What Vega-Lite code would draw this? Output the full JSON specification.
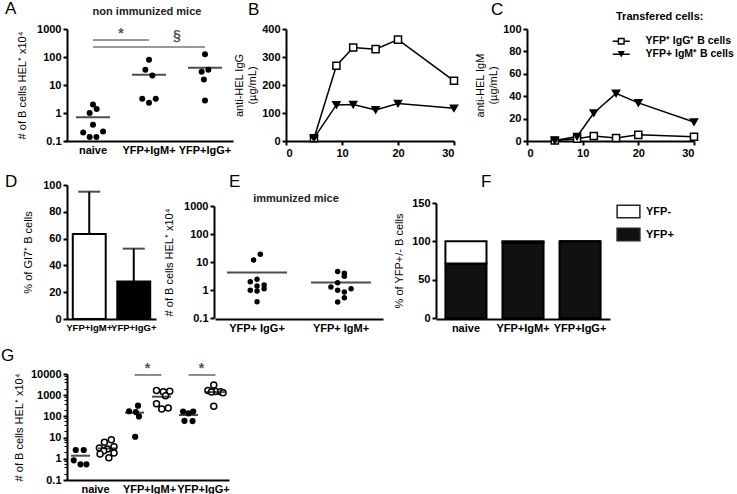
{
  "$schema": "https://vega.github.io/schema/vega-lite/v6.json",
  "padding": {"left": 1, "top": 0, "right": 0, "bottom": 0},
  "background": "white",
  "config": {
    "view": {"stroke": null},
    "font": "Liberation Sans",
    "axis": {"grid": false, "labelOverlap": false, "tickCount": 20, "domainColor": "black", "domainWidth": 2, "tickColor": "black", "tickWidth": 2, "tickSize": 4, "labelFont": "Liberation Sans", "labelFontSize": 11, "labelFontWeight": "bold", "labelColor": "black", "titleFont": "Liberation Sans", "titleFontSize": 11, "titleFontWeight": "normal", "titleColor": "black", "labelPadding": 2, "titlePadding": 6},
    "title": {"font": "Liberation Sans", "fontSize": 17, "fontWeight": "normal", "color": "black", "anchor": "start", "frame": "group"},
    "legend": {"labelFont": "Liberation Sans", "titleFont": "Liberation Sans", "labelColor": "black", "titleColor": "black"},
    "text": {"font": "Liberation Sans"}
  },
  "datasets": {
    "a_pts": [
      {"grp": "naive", "val": 2.0, "jitter": 0},
      {"grp": "naive", "val": 1.38, "jitter": 0.13},
      {"grp": "naive", "val": 1.0, "jitter": -0.12},
      {"grp": "naive", "val": 0.38, "jitter": 0},
      {"grp": "naive", "val": 0.22, "jitter": 0.36},
      {"grp": "naive", "val": 0.2, "jitter": -0.35},
      {"grp": "naive", "val": 0.14, "jitter": -0.12},
      {"grp": "naive", "val": 0.14, "jitter": 0.12},
      {"grp": "YFP+IgM+", "val": 79, "jitter": 0},
      {"grp": "YFP+IgM+", "val": 35, "jitter": -0.13},
      {"grp": "YFP+IgM+", "val": 22, "jitter": 0.12},
      {"grp": "YFP+IgM+", "val": 3.2, "jitter": -0.24},
      {"grp": "YFP+IgM+", "val": 3.2, "jitter": 0.24},
      {"grp": "YFP+IgM+", "val": 2.3, "jitter": 0},
      {"grp": "YFP+IgG+", "val": 125, "jitter": 0},
      {"grp": "YFP+IgG+", "val": 35, "jitter": 0.12},
      {"grp": "YFP+IgG+", "val": 30, "jitter": -0.12},
      {"grp": "YFP+IgG+", "val": 15.7, "jitter": -0.04},
      {"grp": "YFP+IgG+", "val": 2.8, "jitter": 0}
    ],
    "a_mean": [
      {"grp": "naive", "val": 0.7},
      {"grp": "YFP+IgM+", "val": 23},
      {"grp": "YFP+IgG+", "val": 41}
    ],
    "a_sig": [
      {"from": "naive", "to": "YFP+IgM+", "val": 405, "at": "naive", "lab": 660, "sym": "*"},
      {"from": "naive", "to": "YFP+IgG+", "val": 228, "at": "YFP+IgM+", "lab": 540, "sym": "§"}
    ],
    "bdata": [
      {"series": "YFP⁺ IgG⁺ B cells", "day": 5, "val": 10},
      {"series": "YFP⁺ IgG⁺ B cells", "day": 9, "val": 269},
      {"series": "YFP⁺ IgG⁺ B cells", "day": 12, "val": 334},
      {"series": "YFP⁺ IgG⁺ B cells", "day": 16, "val": 328},
      {"series": "YFP⁺ IgG⁺ B cells", "day": 20, "val": 362},
      {"series": "YFP⁺ IgG⁺ B cells", "day": 30, "val": 215},
      {"series": "YFP+ IgM⁺ B cells", "day": 5, "val": 10},
      {"series": "YFP+ IgM⁺ B cells", "day": 9, "val": 129},
      {"series": "YFP+ IgM⁺ B cells", "day": 12, "val": 130},
      {"series": "YFP+ IgM⁺ B cells", "day": 16, "val": 111},
      {"series": "YFP+ IgM⁺ B cells", "day": 20, "val": 134},
      {"series": "YFP+ IgM⁺ B cells", "day": 30, "val": 117}
    ],
    "cdata": [
      {"series": "YFP⁺ IgG⁺ B cells", "day": 5, "val": 0.5},
      {"series": "YFP⁺ IgG⁺ B cells", "day": 9, "val": 2},
      {"series": "YFP⁺ IgG⁺ B cells", "day": 12, "val": 4.5},
      {"series": "YFP⁺ IgG⁺ B cells", "day": 16, "val": 2.7},
      {"series": "YFP⁺ IgG⁺ B cells", "day": 20, "val": 5.5},
      {"series": "YFP⁺ IgG⁺ B cells", "day": 30, "val": 3.8},
      {"series": "YFP+ IgM⁺ B cells", "day": 5, "val": 0.5},
      {"series": "YFP+ IgM⁺ B cells", "day": 9, "val": 4},
      {"series": "YFP+ IgM⁺ B cells", "day": 12, "val": 25},
      {"series": "YFP+ IgM⁺ B cells", "day": 16, "val": 42.5},
      {"series": "YFP+ IgM⁺ B cells", "day": 20, "val": 34},
      {"series": "YFP+ IgM⁺ B cells", "day": 30, "val": 17}
    ],
    "ddata": [
      {"grp": "YFP+IgM+", "val": 63.5, "upper": 95},
      {"grp": "YFP+IgG+", "val": 28, "upper": 52.5}
    ],
    "e_pts": [
      {"grp": "YFP+ IgG+", "val": 18.8, "jitter": 0.08},
      {"grp": "YFP+ IgG+", "val": 11.8, "jitter": -0.08},
      {"grp": "YFP+ IgG+", "val": 2.4, "jitter": 0},
      {"grp": "YFP+ IgG+", "val": 1.98, "jitter": -0.16},
      {"grp": "YFP+ IgG+", "val": 1.5, "jitter": 0.17},
      {"grp": "YFP+ IgG+", "val": 1.39, "jitter": 0},
      {"grp": "YFP+ IgG+", "val": 1.11, "jitter": 0.17},
      {"grp": "YFP+ IgG+", "val": 0.98, "jitter": -0.16},
      {"grp": "YFP+ IgG+", "val": 0.92, "jitter": 0},
      {"grp": "YFP+ IgG+", "val": 0.38, "jitter": 0},
      {"grp": "YFP+ IgM+", "val": 4.6, "jitter": -0.08},
      {"grp": "YFP+ IgM+", "val": 4.0, "jitter": 0.08},
      {"grp": "YFP+ IgM+", "val": 3.1, "jitter": 0.08},
      {"grp": "YFP+ IgM+", "val": 1.83, "jitter": -0.08},
      {"grp": "YFP+ IgM+", "val": 1.28, "jitter": -0.24},
      {"grp": "YFP+ IgM+", "val": 1.11, "jitter": 0.24},
      {"grp": "YFP+ IgM+", "val": 0.98, "jitter": -0.08},
      {"grp": "YFP+ IgM+", "val": 0.85, "jitter": 0.08},
      {"grp": "YFP+ IgM+", "val": 0.53, "jitter": 0.08},
      {"grp": "YFP+ IgM+", "val": 0.37, "jitter": -0.08}
    ],
    "e_mean": [
      {"grp": "YFP+ IgG+", "val": 4.2},
      {"grp": "YFP+ IgM+", "val": 1.85}
    ],
    "fdata": [
      {"grp": "naive", "cell": "YFP+", "pct": 71},
      {"grp": "naive", "cell": "YFP-", "pct": 29},
      {"grp": "YFP+IgM+", "cell": "YFP+", "pct": 98.5},
      {"grp": "YFP+IgM+", "cell": "YFP-", "pct": 1.5},
      {"grp": "YFP+IgG+", "cell": "YFP+", "pct": 100},
      {"grp": "YFP+IgG+", "cell": "YFP-", "pct": 0}
    ],
    "g_pts": [
      {"cond": "naive|filled", "type": "filled", "val": 2.6, "jitter": -0.35},
      {"cond": "naive|filled", "type": "filled", "val": 2.6, "jitter": 0.24},
      {"cond": "naive|filled", "type": "filled", "val": 0.85, "jitter": -0.5},
      {"cond": "naive|filled", "type": "filled", "val": 0.55, "jitter": 0},
      {"cond": "naive|filled", "type": "filled", "val": 0.55, "jitter": 0.44},
      {"cond": "naive|open", "type": "open", "val": 8.0, "jitter": 0.28},
      {"cond": "naive|open", "type": "open", "val": 6.0, "jitter": -0.23},
      {"cond": "naive|open", "type": "open", "val": 3.7, "jitter": 0.48},
      {"cond": "naive|open", "type": "open", "val": 3.2, "jitter": -0.6},
      {"cond": "naive|open", "type": "open", "val": 2.9, "jitter": 0},
      {"cond": "naive|open", "type": "open", "val": 2.4, "jitter": -0.28},
      {"cond": "naive|open", "type": "open", "val": 1.86, "jitter": 0.48},
      {"cond": "naive|open", "type": "open", "val": 1.68, "jitter": -0.55},
      {"cond": "naive|open", "type": "open", "val": 1.12, "jitter": 0.1},
      {"cond": "YFP+IgM+|filled", "type": "filled", "val": 320, "jitter": 0.26},
      {"cond": "YFP+IgM+|filled", "type": "filled", "val": 175, "jitter": -0.4},
      {"cond": "YFP+IgM+|filled", "type": "filled", "val": 160, "jitter": 0.1},
      {"cond": "YFP+IgM+|filled", "type": "filled", "val": 100, "jitter": 0.33},
      {"cond": "YFP+IgM+|filled", "type": "filled", "val": 11, "jitter": 0.05},
      {"cond": "YFP+IgM+|open", "type": "open", "val": 1650, "jitter": -0.37},
      {"cond": "YFP+IgM+|open", "type": "open", "val": 1450, "jitter": 0.13},
      {"cond": "YFP+IgM+|open", "type": "open", "val": 1550, "jitter": 0.61},
      {"cond": "YFP+IgM+|open", "type": "open", "val": 950, "jitter": 0.3},
      {"cond": "YFP+IgM+|open", "type": "open", "val": 400, "jitter": -0.37},
      {"cond": "YFP+IgM+|open", "type": "open", "val": 225, "jitter": 0.02},
      {"cond": "YFP+IgM+|open", "type": "open", "val": 250, "jitter": 0.5},
      {"cond": "YFP+IgG+|filled", "type": "filled", "val": 170, "jitter": -0.4},
      {"cond": "YFP+IgG+|filled", "type": "filled", "val": 170, "jitter": 0.35},
      {"cond": "YFP+IgG+|filled", "type": "filled", "val": 140, "jitter": 0},
      {"cond": "YFP+IgG+|filled", "type": "filled", "val": 62, "jitter": -0.3},
      {"cond": "YFP+IgG+|filled", "type": "filled", "val": 60, "jitter": 0.3},
      {"cond": "YFP+IgG+|open", "type": "open", "val": 3000, "jitter": -0.13},
      {"cond": "YFP+IgG+|open", "type": "open", "val": 1650, "jitter": -0.56},
      {"cond": "YFP+IgG+|open", "type": "open", "val": 1500, "jitter": 0},
      {"cond": "YFP+IgG+|open", "type": "open", "val": 1450, "jitter": 0.38},
      {"cond": "YFP+IgG+|open", "type": "open", "val": 1400, "jitter": -0.3},
      {"cond": "YFP+IgG+|open", "type": "open", "val": 1300, "jitter": 0.56},
      {"cond": "YFP+IgG+|open", "type": "open", "val": 300, "jitter": -0.13}
    ],
    "g_mean": [
      {"cond": "naive|filled", "val": 1.4},
      {"cond": "naive|open", "val": 3.1},
      {"cond": "YFP+IgM+|filled", "val": 150},
      {"cond": "YFP+IgM+|open", "val": 850},
      {"cond": "YFP+IgG+|filled", "val": 116},
      {"cond": "YFP+IgG+|open", "val": 1400}
    ],
    "g_sig": [
      {"from": "YFP+IgM+|filled", "to": "YFP+IgM+|open", "val": 9000, "lab": 17000, "sym": "*"},
      {"from": "YFP+IgG+|filled", "to": "YFP+IgG+|open", "val": 9000, "lab": 17000, "sym": "*"}
    ]
  },
  "spacing": 14,
  "resolve": {"scale": {"fill": "independent", "shape": "independent", "xOffset": "independent"}, "legend": {"fill": "independent", "shape": "independent"}},
  "vconcat": [
    {
      "spacing": 14,
      "resolve": {"scale": {"fill": "independent", "shape": "independent", "xOffset": "independent"}, "legend": {"fill": "independent", "shape": "independent"}},
      "vconcat": [
        {
          "spacing": -11,
          "resolve": {"scale": {"fill": "independent", "shape": "independent", "xOffset": "independent"}, "legend": {"fill": "independent", "shape": "independent"}},
          "hconcat": [
            {
              "width": 177, "height": 112,
              "title": {"text": "A", "dx": -62, "offset": -12},
              "layer": [
                {
                  "data": {"name": "a_pts"},
                  "mark": {"type": "circle", "size": 36, "color": "black", "opacity": 1},
                  "encoding": {
                    "x": {"field": "grp", "type": "nominal", "scale": {"type": "band", "domain": ["naive", "YFP+IgM+", "YFP+IgG+"], "paddingInner": 0, "paddingOuter": 0, "range": [-2, 166]}, "axis": {"title": null, "ticks": false, "labelAngle": 0, "labelPadding": 3}},
                    "y": {"field": "val", "type": "quantitative", "scale": {"type": "log", "domain": [0.1, 1000]}, "axis": {"title": "# of B cells HEL⁺ x10⁴", "values": [0.1, 1, 10, 100, 1000], "format": "~g", "titlePadding": 9}},
                    "xOffset": {"field": "jitter", "type": "quantitative", "scale": {"domain": [-1, 1]}}
                  }
                },
                {
                  "data": {"name": "a_mean"},
                  "mark": {"type": "tick", "color": "black", "thickness": 2, "size": 34},
                  "encoding": {
                    "x": {"field": "grp", "type": "nominal", "scale": {"domain": ["naive", "YFP+IgM+", "YFP+IgG+"]}},
                    "y": {"field": "val", "type": "quantitative"}
                  }
                },
                {
                  "data": {"name": "a_sig"},
                  "mark": {"type": "rule", "color": "#777777", "strokeWidth": 1.5},
                  "encoding": {
                    "x": {"field": "from", "type": "nominal", "scale": {"domain": ["naive", "YFP+IgM+", "YFP+IgG+"]}},
                    "x2": {"field": "to"},
                    "y": {"field": "val", "type": "quantitative"}
                  }
                },
                {
                  "data": {"name": "a_sig"},
                  "mark": {"type": "text", "dx": 28, "fontSize": 14, "fontWeight": "bold", "color": "#555555"},
                  "encoding": {
                    "x": {"field": "at", "type": "nominal", "scale": {"domain": ["naive", "YFP+IgM+", "YFP+IgG+"]}},
                    "y": {"field": "lab", "type": "quantitative"},
                    "text": {"field": "sym"}
                  }
                },
                {
                  "data": {"values": [{}]},
                  "mark": {"type": "text", "fontSize": 11, "fontWeight": "bold", "color": "#222222", "dx": -2},
                  "encoding": {
                    "x": {"datum": "YFP+IgM+"},
                    "y": {"datum": 4000},
                    "text": {"value": "non immunized mice"}
                  }
                }
              ]
            },
            {
              "spacing": 13,
              "resolve": {"scale": {"fill": "independent", "shape": "independent", "xOffset": "independent"}, "legend": {"fill": "independent", "shape": "independent"}},
              "hconcat": [
                {
                  "width": 168, "height": 112,
                  "title": {"text": "B", "dx": -38, "offset": 4},
                  "data": {"name": "bdata"},
                  "layer": [
                    {
                      "mark": {"type": "line", "color": "black", "strokeWidth": 1.5},
                      "encoding": {
                        "x": {"field": "day", "type": "quantitative", "scale": {"domain": [0, 30], "nice": false}, "axis": {"title": null, "values": [0, 10, 20, 30]}},
                        "y": {"field": "val", "type": "quantitative", "scale": {"domain": [0, 400], "nice": false}, "axis": {"title": ["anti-HEL IgG", "(µg/mL)"], "values": [0, 100, 200, 300, 400], "titlePadding": 4}},
                        "detail": {"field": "series"}
                      }
                    },
                    {
                      "mark": {"type": "point", "filled": true, "stroke": "black", "strokeWidth": 1.5, "opacity": 1, "size": 50},
                      "encoding": {
                        "x": {"field": "day", "type": "quantitative"},
                        "y": {"field": "val", "type": "quantitative"},
                        "shape": {"field": "series", "type": "nominal", "scale": {"domain": ["YFP⁺ IgG⁺ B cells", "YFP+ IgM⁺ B cells"], "range": ["square", "triangle-down"]}, "legend": null},
                        "fill": {"field": "series", "type": "nominal", "scale": {"domain": ["YFP⁺ IgG⁺ B cells", "YFP+ IgM⁺ B cells"], "range": ["white", "black"]}, "legend": null}
                      }
                    }
                  ]
                },
                {
                  "width": 167, "height": 112,
                  "title": {"text": "C", "dx": -36, "offset": -7.5},
                  "data": {"name": "cdata"},
                  "resolve": {"scale": {"shape": "independent"}, "legend": {"shape": "independent"}},
                  "layer": [
                    {
                      "mark": {"type": "line", "color": "black", "strokeWidth": 1.5},
                      "encoding": {
                        "x": {"field": "day", "type": "quantitative", "scale": {"domain": [0, 30], "nice": false}, "axis": {"title": null, "values": [0, 10, 20, 30]}},
                        "y": {"field": "val", "type": "quantitative", "scale": {"domain": [0, 100], "nice": false}, "axis": {"title": ["anti-HEL IgM", "(µg/mL)"], "values": [0, 20, 40, 60, 80, 100], "titlePadding": 4}},
                        "detail": {"field": "series"}
                      }
                    },
                    {
                      "mark": {"type": "point", "filled": true, "stroke": "black", "strokeWidth": 1.5, "opacity": 1, "size": 50},
                      "encoding": {
                        "x": {"field": "day", "type": "quantitative"},
                        "y": {"field": "val", "type": "quantitative"},
                        "shape": {"field": "series", "type": "nominal", "scale": {"domain": ["YFP⁺ IgG⁺ B cells", "YFP+ IgM⁺ B cells"], "range": ["square", "triangle-down"]}, "legend": null},
                        "fill": {"field": "series", "type": "nominal", "scale": {"domain": ["YFP⁺ IgG⁺ B cells", "YFP+ IgM⁺ B cells"], "range": ["white", "black"]}, "legend": null}
                      }
                    },
                    {
                      "mark": {"type": "point", "filled": true, "color": "black", "opacity": 0, "size": 50},
                      "encoding": {
                        "x": {"field": "day", "type": "quantitative"},
                        "y": {"field": "val", "type": "quantitative"},
                        "shape": {"field": "series", "type": "nominal",
                          "scale": {"domain": ["YFP⁺ IgG⁺ B cells", "YFP+ IgM⁺ B cells"], "range": ["M-2.4,-0.2H-1V0.2H-2.4Z M1,-0.2H2.4V0.2H1Z M-1,-1H1V1H-1Z M-0.6,-0.6V0.6H0.6V-0.6Z", "M-2.4,-0.2H2.4V0.2H-2.4Z M-1,-0.9H1L0,0.9Z"]},
                          "legend": {"title": "Transfered cells:", "orient": "none", "legendX": 89, "legendY": -18, "titleAnchor": "start", "titleAlign": "left", "titleFontSize": 11, "titleFontWeight": "bold", "titlePadding": 14, "labelFontSize": 10.5, "labelFontWeight": "bold", "symbolSize": 50, "symbolOpacity": 1, "symbolFillColor": "black", "symbolStrokeWidth": 0, "labelOffset": 19, "rowPadding": 2}}
                      }
                    }
                  ]
                }
              ]
            }
          ]
        },
        {
          "spacing": 7,
          "resolve": {"scale": {"fill": "independent", "shape": "independent", "xOffset": "independent"}, "legend": {"fill": "independent", "shape": "independent"}},
          "hconcat": [
            {
              "width": 89, "height": 134,
              "title": {"text": "D", "dx": -62, "offset": -12},
              "data": {"name": "ddata"},
              "layer": [
                {
                  "mark": {"type": "bar", "stroke": "black", "strokeWidth": 2},
                  "encoding": {
                    "x": {"field": "grp", "type": "nominal", "scale": {"domain": ["YFP+IgM+", "YFP+IgG+"], "paddingInner": 0.26, "paddingOuter": 0.13}, "axis": {"title": null, "ticks": false, "labelAngle": 0, "labelPadding": 3, "labelFontSize": 9.5}},
                    "y": {"field": "val", "type": "quantitative", "scale": {"domain": [0, 100], "nice": false}, "axis": {"title": "% of GI7⁺ B cells", "values": [0, 20, 40, 60, 80, 100], "titlePadding": 9, "tickCount": 20, "labelOverlap": false}},
                    "fill": {"field": "grp", "type": "nominal", "scale": {"domain": ["YFP+IgM+", "YFP+IgG+"], "range": ["white", "black"]}, "legend": null}
                  }
                },
                {
                  "mark": {"type": "rule", "color": "black", "strokeWidth": 2},
                  "encoding": {
                    "x": {"field": "grp", "type": "nominal"},
                    "y": {"field": "val", "type": "quantitative"},
                    "y2": {"field": "upper"}
                  }
                },
                {
                  "mark": {"type": "tick", "color": "black", "thickness": 2, "size": 22},
                  "encoding": {
                    "x": {"field": "grp", "type": "nominal"},
                    "y": {"field": "upper", "type": "quantitative"}
                  }
                }
              ]
            },
            {
              "spacing": 10,
              "resolve": {"scale": {"fill": "independent", "shape": "independent", "xOffset": "independent"}, "legend": {"fill": "independent", "shape": "independent"}},
              "hconcat": [
                {
                  "width": 169, "height": 134,
                  "title": {"text": "E", "dx": 15, "offset": -5.5},
                  "layer": [
                    {
                      "data": {"name": "e_pts"},
                      "mark": {"type": "circle", "size": 30, "color": "black", "opacity": 1},
                      "encoding": {
                        "x": {"field": "grp", "type": "nominal", "scale": {"type": "band", "domain": ["YFP+ IgG+", "YFP+ IgM+"], "paddingInner": 0, "paddingOuter": 0, "range": [1, 169]}, "axis": {"title": null, "ticks": false, "labelAngle": 0, "labelPadding": 3}},
                        "y": {"field": "val", "type": "quantitative", "scale": {"type": "log", "domain": [0.1, 1000], "range": [133, 21]}, "axis": {"title": "# of B cells HEL⁺ x10⁴", "values": [0.1, 1, 10, 100, 1000], "format": "~g", "titlePadding": 9}},
                        "xOffset": {"field": "jitter", "type": "quantitative", "scale": {"domain": [-1, 1]}}
                      }
                    },
                    {
                      "data": {"name": "e_mean"},
                      "mark": {"type": "tick", "color": "black", "thickness": 2, "size": 60},
                      "encoding": {
                        "x": {"field": "grp", "type": "nominal", "scale": {"domain": ["YFP+ IgG+", "YFP+ IgM+"]}},
                        "y": {"field": "val", "type": "quantitative"}
                      }
                    },
                    {
                      "data": {"values": [{}]},
                      "mark": {"type": "text", "fontSize": 11, "fontWeight": "bold", "color": "#222222", "dx": 39},
                      "encoding": {
                        "x": {"datum": "YFP+ IgG+"},
                        "y": {"datum": 1780},
                        "text": {"value": "immunized mice"}
                      }
                    }
                  ]
                },
                {
                  "width": 174, "height": 134,
                  "title": {"text": "F", "dx": 45, "offset": -5.5},
                  "data": {"name": "fdata"},
                  "mark": {"type": "bar", "stroke": "black", "strokeWidth": 2},
                  "encoding": {
                    "x": {"field": "grp", "type": "nominal", "scale": {"domain": ["naive", "YFP+IgM+", "YFP+IgG+"], "paddingInner": 0.28, "paddingOuter": 0.165}, "axis": {"title": null, "ticks": false, "labelAngle": 0, "labelPadding": 3}},
                    "y": {"field": "pct", "type": "quantitative", "stack": "zero", "scale": {"domain": [0, 150], "nice": false, "range": [133, 18]}, "axis": {"title": "% of YFP+/- B cells", "values": [0, 50, 100, 150], "titlePadding": 7}},
                    "fill": {"field": "cell", "type": "nominal", "scale": {"domain": ["YFP-", "YFP+"], "range": ["white", "#111111"]},
                      "legend": {"title": null, "orient": "right", "offset": -8, "padding": 19, "symbolType": "M-1.8,-1H1.8V1H-1.8Z", "symbolSize": 160, "symbolStrokeColor": "#222222", "symbolStrokeWidth": 1.5, "labelFontSize": 11, "labelFontWeight": "bold", "labelOffset": 10, "rowPadding": 4}},
                    "order": {"field": "cell", "sort": "ascending"}
                  }
                }
              ]
            }
          ]
        }
      ]
    },
    {
      "width": 173, "height": 106,
      "title": {"text": "G", "dx": -66, "offset": -3},
      "resolve": {"axis": {"y": "independent"}},
      "layer": [
        {
          "data": {"name": "g_pts"},
          "mark": {"type": "point", "filled": true, "stroke": "black", "strokeWidth": 1.5, "opacity": 1, "size": 30},
          "encoding": {
            "x": {"field": "cond", "type": "nominal", "scale": {"type": "band", "domain": ["naive|filled", "naive|open", "YFP+IgM+|filled", "YFP+IgM+|open", "YFP+IgG+|filled", "YFP+IgG+|open"], "paddingInner": 0, "paddingOuter": 0, "range": [0, 162]}, "axis": {"title": null, "ticks": false, "labelAngle": 0, "labelPadding": 3, "labelOffset": 15, "labelExpr": "indexof(datum.value, 'filled') >= 0 ? split(datum.value, '|')[0] : ''"}},
            "y": {"field": "val", "type": "quantitative", "scale": {"type": "log", "domain": [0.1, 10000]}, "axis": {"title": "# of B cells HEL⁺ x10⁴", "values": [0.1, 1, 10, 100, 1000, 10000], "format": "~g", "titlePadding": 6}},
            "xOffset": {"field": "jitter", "type": "quantitative", "scale": {"domain": [-1, 1]}},
            "fill": {"field": "type", "type": "nominal", "scale": {"domain": ["filled", "open"], "range": ["black", "white"]}, "legend": null},
            "size": {"field": "type", "type": "nominal", "scale": {"domain": ["filled", "open"], "range": [22, 36]}, "legend": null}
          }
        },
        {
          "data": {"name": "g_mean"},
          "mark": {"type": "tick", "color": "black", "thickness": 2, "size": 19},
          "encoding": {
            "x": {"field": "cond", "type": "nominal", "scale": {"domain": ["naive|filled", "naive|open", "YFP+IgM+|filled", "YFP+IgM+|open", "YFP+IgG+|filled", "YFP+IgG+|open"]}},
            "y": {"field": "val", "type": "quantitative", "axis": null}
          }
        },
        {
          "data": {"name": "g_sig"},
          "mark": {"type": "rule", "color": "#666666", "strokeWidth": 1.5},
          "encoding": {
            "x": {"field": "from", "type": "nominal", "scale": {"domain": ["naive|filled", "naive|open", "YFP+IgM+|filled", "YFP+IgM+|open", "YFP+IgG+|filled", "YFP+IgG+|open"]}},
            "x2": {"field": "to"},
            "y": {"field": "val", "type": "quantitative", "axis": null}
          }
        },
        {
          "data": {"name": "g_sig"},
          "mark": {"type": "text", "dx": 13, "fontSize": 14, "fontWeight": "bold", "color": "#555555"},
          "encoding": {
            "x": {"field": "from", "type": "nominal", "scale": {"domain": ["naive|filled", "naive|open", "YFP+IgM+|filled", "YFP+IgM+|open", "YFP+IgG+|filled", "YFP+IgG+|open"]}},
            "y": {"field": "lab", "type": "quantitative", "axis": null},
            "text": {"field": "sym"}
          }
        },
        {
          "data": {"values": [{}]},
          "mark": {"type": "point", "opacity": 0},
          "encoding": {
            "y": {"datum": 1, "type": "quantitative", "axis": {"orient": "left", "title": null, "labels": false, "domain": false, "tickSize": 3, "tickWidth": 1, "values": [0.2, 0.3, 0.4, 0.5, 0.6, 0.7, 0.8, 0.9, 2, 3, 4, 5, 6, 7, 8, 9, 20, 30, 40, 50, 60, 70, 80, 90, 200, 300, 400, 500, 600, 700, 800, 900, 2000, 3000, 4000, 5000, 6000, 7000, 8000, 9000]}}
          }
        }
      ]
    }
  ]
}
